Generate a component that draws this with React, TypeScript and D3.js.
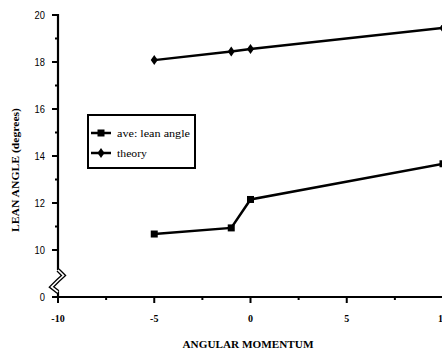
import React from "react";
import * as d3 from "d3";

const xValues = [-5, -1, 0, 10];
const aveLean = [10.68, 10.94, 12.15, 13.67];
const theory = [18.08, 18.45, 18.55, 19.45];
const xTicks = [-10, -5, 0, 5, 10];
const xTickLabels = ["-10", "-5", "0", "5", "10"];
const xMinor = [-7.5, -2.5, 2.5, 7.5];
const yTicks = [8, 10, 12, 14, 16, 18, 20];
const yTickLabels = ["0", "10", "12", "14", "16", "18", "20"];
const yMinor = [11, 13, 15, 17, 19];
const seriesNames = ["ave: lean angle", "theory"];

export default function App() {
  const W = 442, H = 353;
  const x = d3.scaleLinear().domain([-10, 10]).range([58, 443]);
  const y = d3.scaleLinear().domain([8, 20]).range([297, 15]);
  const line = d3.line<number>().x((_, i) => x(xValues[i])).y((v) => y(v));
  const diamond = (cx: number, cy: number, s = 1) =>
    `M${cx},${cy - 5 * s}L${cx + 3.5 * s},${cy}L${cx},${cy + 5 * s}L${cx - 3.5 * s},${cy}Z`;
  const sans = "'Liberation Sans Narrow', 'Liberation Sans', Arial, sans-serif";
  const serif = "'Liberation Serif', 'DejaVu Serif', serif";
  return (
    <svg width={W} height={H} style={{ position: "absolute", left: 0, top: 0, background: "#fff" }}>
      {/* axes */}
      <line x1={x(-10)} x2={x(-10)} y1={y(20) - 1} y2={270} stroke="#000" strokeWidth={2.2} />
      <line x1={x(-10)} x2={x(-10)} y1={291} y2={y(8) + 1} stroke="#000" strokeWidth={2.2} />
      <line x1={x(-10)} x2={W} y1={y(8)} y2={y(8)} stroke="#000" strokeWidth={2.2} />
      {yTicks.map((t, i) => (
        <g key={"yt" + t}>
          <line x1={x(-10) - 6} x2={x(-10)} y1={y(t)} y2={y(t)} stroke="#000" strokeWidth={2} />
          <text x={45} y={y(t) + 4} textAnchor="end" fontFamily={sans} fontSize={11} fill="#000"
            textLength={yTickLabels[i].length * 5.2} lengthAdjust="spacingAndGlyphs">
            {yTickLabels[i]}
          </text>
        </g>
      ))}
      {yMinor.map((t) => (
        <line key={"ym" + t} x1={x(-10) - 3} x2={x(-10)} y1={y(t)} y2={y(t)} stroke="#000" strokeWidth={2} />
      ))}
      {xTicks.map((t, i) => (
        <g key={"xt" + t}>
          <line x1={x(t)} x2={x(t)} y1={y(8)} y2={y(8) + 6} stroke="#000" strokeWidth={2} />
          <text x={x(t)} y={322} textAnchor="middle" fontFamily={serif} fontWeight="bold" fontSize={10} fill="#000">
            {xTickLabels[i]}
          </text>
        </g>
      ))}
      {xMinor.map((t) => (
        <line key={"xm" + t} x1={x(t)} x2={x(t)} y1={y(8)} y2={y(8) + 3} stroke="#000" strokeWidth={2} />
      ))}
      {/* axis break */}
      <path d="M58,270 L63.5,275.5 L58,280.5 L51.5,287 L58,292" fill="none" stroke="#000" strokeWidth={4.2} strokeLinejoin="miter" />
      <path d="M58,270 L63.5,275.5 L58,280.5 L51.5,287 L58,292" fill="none" stroke="#fff" strokeWidth={1.6} strokeLinejoin="miter" />
      {/* series */}
      <path d={line(theory) || ""} fill="none" stroke="#000" strokeWidth={2.5} />
      <path d={line(aveLean) || ""} fill="none" stroke="#000" strokeWidth={2.5} />
      {theory.map((v, i) => (
        <path key={"td" + i} d={diamond(x(xValues[i]), y(v))} fill="#000" />
      ))}
      {aveLean.map((v, i) => (
        <rect key={"as" + i} x={x(xValues[i]) - 3.5} y={y(v) - 3.5} width={7} height={7} fill="#000" />
      ))}
      {/* legend */}
      <rect x={88} y={115} width={107} height={53} fill="#fff" stroke="#000" strokeWidth={2} />
      <line x1={91} x2={111} y1={133} y2={133} stroke="#000" strokeWidth={2.5} />
      <rect x={97.5} y={129.5} width={7} height={7} fill="#000" />
      <text x={117} y={136.5} fontFamily={serif} fontSize={10.5} fill="#000" textLength={73} lengthAdjust="spacingAndGlyphs">
        {seriesNames[0]}
      </text>
      <line x1={91} x2={111} y1={153} y2={153} stroke="#000" strokeWidth={2.5} />
      <path d={diamond(101, 153)} fill="#000" />
      <text x={117} y={156.5} fontFamily={serif} fontSize={10.5} fill="#000" textLength={30} lengthAdjust="spacingAndGlyphs">
        {seriesNames[1]}
      </text>
      {/* titles */}
      <text
        transform="translate(19,170) rotate(-90)"
        textAnchor="middle"
        fontFamily={serif}
        fontWeight="bold"
        fontSize={11}
        fill="#000"
        textLength={124}
        lengthAdjust="spacingAndGlyphs"
      >
        LEAN ANGLE (degrees)
      </text>
      <text
        x={248}
        y={348}
        textAnchor="middle"
        fontFamily={serif}
        fontWeight="bold"
        fontSize={11}
        fill="#000"
        textLength={131}
        lengthAdjust="spacingAndGlyphs"
      >
        ANGULAR MOMENTUM
      </text>
    </svg>
  );
}
